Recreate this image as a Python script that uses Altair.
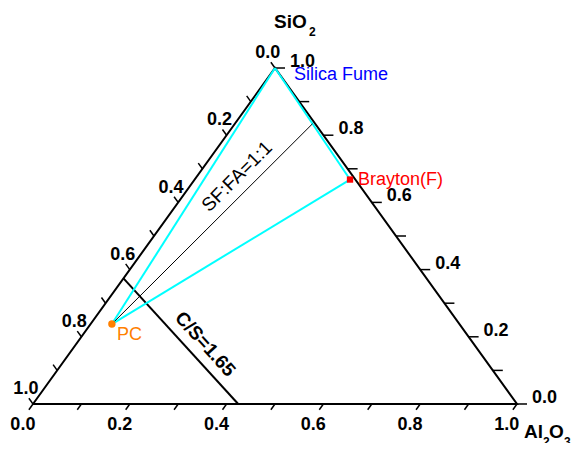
import altair as alt
import pandas as pd

# ---------------- data (mass fractions) ----------------
materials = ["Silica Fume", "Brayton(F)", "PC"]
sio2 = [1.0, 0.668, 0.238]
al2o3 = [0.0, 0.321, 0.044]
cao = [0.0, 0.011, 0.718]
mat_colors = ["#0000FF", "#FF0000", "#FF8000"]

tick_values = [0.0, 0.1, 0.2, 0.3, 0.4, 0.5, 0.6, 0.7, 0.8, 0.9, 1.0]
label_values = [0.0, 0.2, 0.4, 0.6, 0.8, 1.0]
label_texts = ["0.0", "0.2", "0.4", "0.6", "0.8", "1.0"]

cs_left_sio2 = 0.374      # C/S line end on CaO-SiO2 edge
cs_bottom_al2o3 = 0.424   # C/S line end on CaO-Al2O3 edge
cs_label = "C/S=1.65"
sffa_label = "SF:FA=1:1"

# ---------------- geometry ----------------
W, H = 563, 435
X0, X1 = -0.05165, 1.1116
Y0, Y1 = -0.1161, 1.1786
PX = (X1 - X0) / W   # data units per pixel (x)
PY = (Y1 - Y0) / H   # data units per pixel (y)
xs = alt.Scale(domain=[X0, X1], nice=False, zero=False)
ys = alt.Scale(domain=[Y0, Y1], nice=False, zero=False)


def xy(al, si):
    return al + si / 2.0, si


def X(f="x"):
    return alt.X(f + ":Q", scale=xs, axis=None)


def Y(f="y"):
    return alt.Y(f + ":Q", scale=ys, axis=None)


def rules(rows, **kw):
    df = pd.DataFrame(rows, columns=["x", "y", "x2", "y2"])
    return alt.Chart(df).mark_rule(**kw).encode(x=X(), y=Y(), x2="x2:Q", y2="y2:Q")


def texts(rows, **kw):
    df = pd.DataFrame(rows, columns=["x", "y", "t"])
    return alt.Chart(df).mark_text(**kw).encode(x=X(), y=Y(), text="t:N")


layers = []

# triangle
tri = pd.DataFrame({
    "x": [xy(0, 0)[0], xy(1, 0)[0], xy(0, 1)[0], xy(0, 0)[0]],
    "y": [0, 0, 1, 0],
    "o": [0, 1, 2, 3],
})
layers.append(alt.Chart(tri).mark_line(color="black", strokeWidth=2, strokeJoin="miter").encode(
    x=X(), y=Y(), order="o:O"))

# ticks
db, dr, dl = 0.017, 0.0207, 0.017
bt, rt, lt = [], [], []
for v in tick_values:
    bx, by = xy(v, 0)
    ex, ey = xy(v, -db)
    bt.append((bx, by, ex, ey))
    sx, sy = xy(1 - v, v)
    ex2, ey2 = xy(1 - v + dr, v)
    rt.append((sx, sy, ex2, ey2))
    lx, ly = xy(0, 1 - v)
    ex3, ey3 = xy(-dl, 1 - v + dl)
    lt.append((lx, ly, ex3, ey3))
layers.append(rules(bt + rt + lt, color="black", strokeWidth=1.5))

# tick labels
bl, rl, ll = [], [], []
for v, t in zip(label_values, label_texts):
    ex, ey = xy(v, -db)
    bl.append((ex, ey, t))
    ex2, ey2 = xy(1 - v + dr, v)
    rl.append((ex2, ey2, t))
    ex3, ey3 = xy(-dl, 1 - v + dl)
    ll.append((ex3, ey3, t))
tick_font = dict(font="Liberation Sans", fontSize=18, fontWeight="bold", color="black")
layers.append(texts(bl, align="center", baseline="alphabetic", dx=-6, dy=20, **tick_font))
layers.append(texts(rl, align="left", baseline="alphabetic", dx=5, dy=-1, **tick_font))
layers.append(texts(ll, align="center", baseline="alphabetic", dx=-3, dy=-4, **tick_font))

# C/S line
csL = xy(0, cs_left_sio2)
csB = xy(cs_bottom_al2o3, 0)
layers.append(rules([(csL[0], csL[1], csB[0], csB[1])], color="black", strokeWidth=2))

# tie lines
pts = [xy(a, s) for a, s in zip(al2o3, sio2)]
sf, br, pc = pts
mid = ((sf[0] + br[0]) / 2, (sf[1] + br[1]) / 2)
layers.append(rules([(pc[0], pc[1], sf[0], sf[1]),
                     (pc[0], pc[1], br[0], br[1]),
                     (sf[0], sf[1], br[0], br[1])], color="#00FFFF", strokeWidth=2))
layers.append(rules([(pc[0], pc[1], mid[0], mid[1])], color="black", strokeWidth=1))

# markers
layers.append(alt.Chart(pd.DataFrame({"x": [pc[0]], "y": [pc[1]]})).mark_point(
    shape="circle", filled=True, size=55, color=mat_colors[2], opacity=1).encode(x=X(), y=Y()))
layers.append(alt.Chart(pd.DataFrame({"x": [br[0]], "y": [br[1]]})).mark_point(
    shape="square", filled=True, size=40, color=mat_colors[1], opacity=1).encode(x=X(), y=Y()))

# material labels
offs = [(19, 12), (8, 5), (5, 16)]
for name, p, c, (ddx, ddy) in zip(materials, pts, mat_colors, offs):
    layers.append(texts([(p[0], p[1], name)], align="left", baseline="alphabetic",
                        dx=ddx, dy=ddy, font="Liberation Sans", fontSize=18, color=c))

# SF:FA label along tie line
t1 = 0.68
sx_, sy_ = pc[0] + t1 * (mid[0] - pc[0]), pc[1] + t1 * (mid[1] - pc[1])
layers.append(texts([(sx_, sy_, sffa_label)], align="center", baseline="alphabetic",
                    angle=315, dy=-10, font="Liberation Sans", fontSize=19, color="black"))

# C/S label along line
t2 = 0.6085
cx_, cy_ = csL[0] + t2 * (csB[0] - csL[0]), csL[1] + t2 * (csB[1] - csL[1])
layers.append(texts([(cx_, cy_, cs_label)], align="center", baseline="alphabetic",
                    angle=48, dy=-10, font="Liberation Sans", fontSize=19, fontWeight="bold",
                    color="black"))

# axis titles with subscripts
top = xy(0, 1)
brv = xy(1, 0)
big = dict(font="Liberation Sans", fontSize=19, fontWeight="bold", color="black",
           align="left", baseline="alphabetic")
small = dict(font="Liberation Sans", fontSize=12, fontWeight="bold", color="black",
             align="left", baseline="alphabetic")
layers.append(texts([(top[0] - 1 * PX, top[1] + 40 * PY, "SiO"),
                     (brv[0] + 7 * PX, brv[1] - 34 * PY, "Al"),
                     (brv[0] + 32 * PX, brv[1] - 34 * PY, "O")], **big))
layers.append(texts([(top[0] + 34 * PX, top[1] + 32 * PY, "2"),
                     (brv[0] + 26 * PX, brv[1] - 42 * PY, "2"),
                     (brv[0] + 47 * PX, brv[1] - 42 * PY, "3")], **small))

chart = alt.layer(*layers).properties(
    width=W, height=H, padding=0,
    autosize=alt.AutoSizeParams(type="none"),
).configure_view(strokeWidth=0)

chart.save("out.html", embed_options={"renderer": "svg", "actions": False})
